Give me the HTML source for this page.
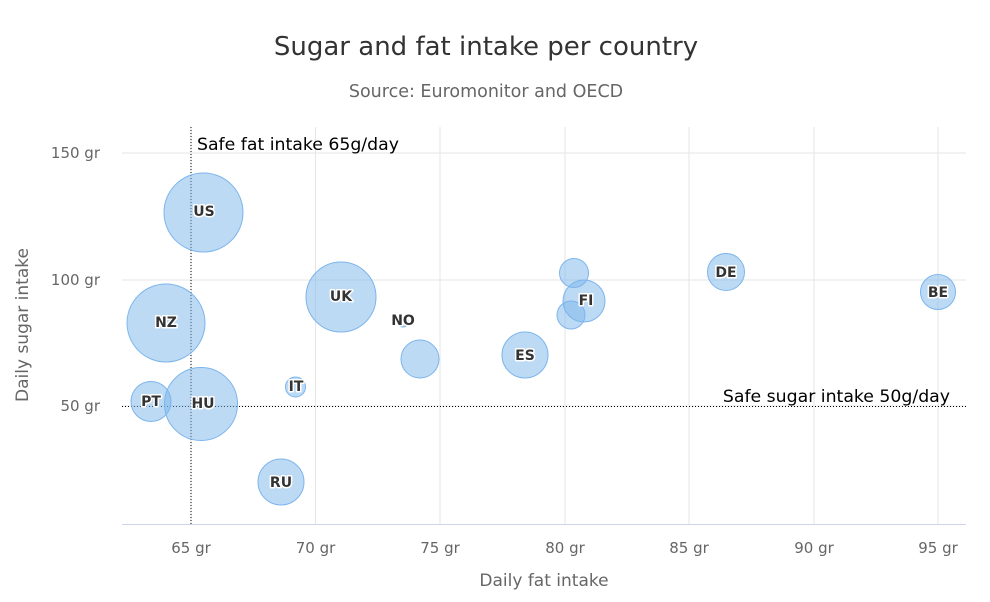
<!DOCTYPE html>
<html><head><meta charset="utf-8"><style>
body{margin:0;background:#fff}
svg{display:block;font-family:"DejaVu Sans","Liberation Sans",sans-serif}
.lb{font-size:14px;font-weight:bold;fill:#333;stroke:#fff;stroke-width:3px;paint-order:stroke;stroke-linejoin:round;text-anchor:middle}
.ax{font-size:15px;fill:#666}
</style></head><body>
<svg width="990" height="602" viewBox="0 0 990 602">
<rect width="990" height="602" fill="#fff"/>
<text x="486" y="55" text-anchor="middle" font-size="26" fill="#333">Sugar and fat intake per country</text>
<text x="486" y="97" text-anchor="middle" font-size="17.5" fill="#666">Source: Euromonitor and OECD</text>
<g stroke="#e6e6e6" stroke-width="1">
<line x1="191" y1="127" x2="191" y2="524"/><line x1="315.5" y1="127" x2="315.5" y2="524"/>
<line x1="440" y1="127" x2="440" y2="524"/><line x1="565" y1="127" x2="565" y2="524"/>
<line x1="689" y1="127" x2="689" y2="524"/><line x1="814" y1="127" x2="814" y2="524"/>
<line x1="938" y1="127" x2="938" y2="524"/>
<line x1="122" y1="153" x2="966" y2="153"/><line x1="122" y1="280" x2="966" y2="280"/>
<line x1="122" y1="406" x2="966" y2="406"/>
</g>
<line x1="122" y1="524.5" x2="966" y2="524.5" stroke="#ccd6eb"/>
<g class="ax" text-anchor="middle">
<text x="191" y="553">65 gr</text><text x="315.5" y="553">70 gr</text><text x="440" y="553">75 gr</text>
<text x="565" y="553">80 gr</text><text x="689" y="553">85 gr</text><text x="814" y="553">90 gr</text><text x="938" y="553">95 gr</text>
</g>
<g class="ax" text-anchor="end">
<text x="100" y="158">150 gr</text><text x="100" y="285">100 gr</text><text x="100" y="411">50 gr</text>
</g>
<text x="544" y="586" text-anchor="middle" font-size="17" fill="#666">Daily fat intake</text>
<text transform="translate(28,325) rotate(-90)" text-anchor="middle" font-size="17" fill="#666">Daily sugar intake</text>
<line x1="191" y1="127" x2="191" y2="524" stroke="#000" stroke-dasharray="1,2"/>
<line x1="122" y1="406.5" x2="966" y2="406.5" stroke="#000" stroke-dasharray="1,2"/>
<text x="197" y="150" font-size="17.3" fill="#000">Safe fat intake 65g/day</text>
<text x="950" y="402" font-size="17.3" fill="#000" text-anchor="end">Safe sugar intake 50g/day</text>
<g fill="rgba(124,181,236,0.5)" stroke="#7cb5ec" stroke-width="1">
<circle cx="938" cy="292" r="17.5"/>
<circle cx="726" cy="272" r="18.5"/>
<circle cx="584" cy="301" r="21"/>
<circle cx="574" cy="273" r="14.5"/>
<circle cx="571" cy="315" r="14"/>
<circle cx="525" cy="355" r="23"/>
<circle cx="420" cy="359" r="19"/>
<circle cx="403" cy="322" r="5"/>
<circle cx="341" cy="297" r="35"/>
<circle cx="295.5" cy="387" r="10"/>
<circle cx="281" cy="482" r="23"/>
<circle cx="203.5" cy="212.5" r="39.5"/>
<circle cx="201" cy="404" r="36.5"/>
<circle cx="151" cy="401.5" r="20"/>
<circle cx="166" cy="323" r="39"/>
</g>
<g class="lb">
<text x="938" y="297">BE</text><text x="726" y="277">DE</text><text x="586" y="305">FI</text>
<text x="525" y="360">ES</text><text x="403" y="325">NO</text><text x="341" y="301">UK</text>
<text x="296" y="391">IT</text><text x="281" y="487">RU</text><text x="204" y="216">US</text>
<text x="203" y="408">HU</text><text x="151" y="406">PT</text><text x="166" y="327">NZ</text>
</g>
</svg>
</body></html>
